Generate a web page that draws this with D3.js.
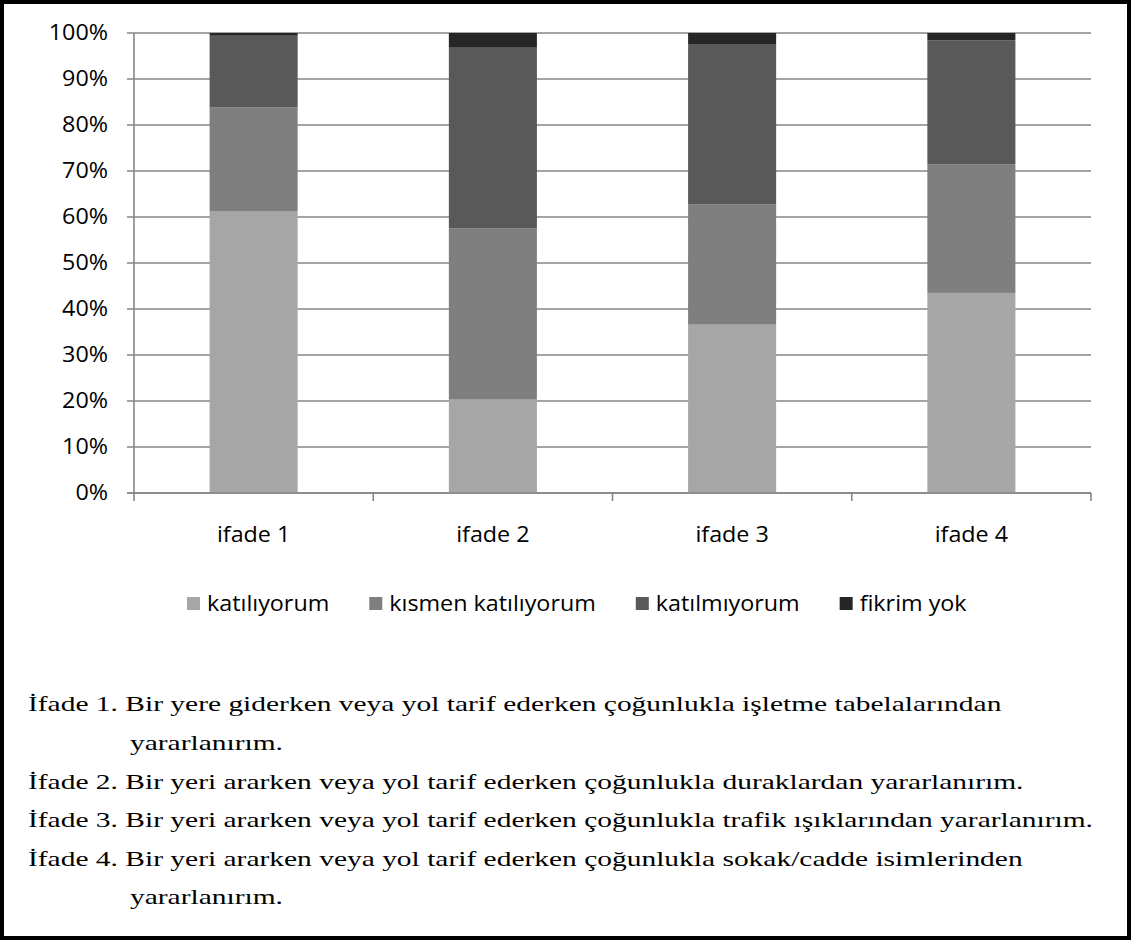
<!DOCTYPE html>
<html><head><meta charset="utf-8">
<script src="https://cdn.jsdelivr.net/npm/d3@7"></script>
<style>html,body{margin:0;padding:0;background:#fff;}svg{display:block;}</style>
</head><body>
<svg id="chart" width="1131" height="942"></svg>
<script>
const categories = ["ifade 1", "ifade 2", "ifade 3", "ifade 4"];
const seriesNames = ["katılıyorum", "kısmen katılıyorum", "katılmıyorum", "fikrim yok"];
const katiliyorum = [61.3, 20.3, 36.6, 43.5];
const kismenKatiliyorum = [22.5, 37.2, 26.2, 27.9];
const katilmiyorum = [15.6, 39.3, 34.8, 27.0];
const fikrimYok = [0.6, 3.2, 2.4, 1.6];
const colors = ["#a6a6a6", "#7f7f7f", "#595959", "#262626"];
const yTicks = [0, 0.1, 0.2, 0.3, 0.4, 0.5, 0.6, 0.7, 0.8, 0.9, 1.0];
const notes = [
  {text: "İfade 1. Bir yere giderken veya yol tarif ederken çoğunlukla işletme tabelalarından", indent: false},
  {text: "yararlanırım.", indent: true},
  {text: "İfade 2. Bir yeri ararken veya yol tarif ederken çoğunlukla duraklardan yararlanırım.", indent: false},
  {text: "İfade 3. Bir yeri ararken veya yol tarif ederken çoğunlukla trafik ışıklarından yararlanırım.", indent: false},
  {text: "İfade 4. Bir yeri ararken veya yol tarif ederken çoğunlukla sokak/cadde isimlerinden", indent: false},
  {text: "yararlanırım.", indent: true}
];

(function () {
const seriesArrays = [katiliyorum, kismenKatiliyorum, katilmiyorum, fikrimYok];
const table = categories.map((c, i) => {
  const row = {cat: c};
  seriesNames.forEach((s, j) => row[s] = seriesArrays[j][i]);
  return row;
});

const svg = d3.select("#chart");
const chartFont = "'Open Sans', sans-serif";
const noteFont = "'Liberation Serif', 'Times New Roman', serif";
const chartStretch = 1.11;   // reference text is horizontally wider than Open Sans
function stretch(sel, k) {
  sel.each(function () {
    const w = this.getComputedTextLength();
    d3.select(this).attr("textLength", w * k).attr("lengthAdjust", "spacingAndGlyphs");
  });
}

const pL = 134, pR = 1091, pT = 33, pB = 493;
const x = d3.scaleBand().domain(categories).range([pL, pR]).paddingInner(0.632).paddingOuter(0.316);
const y = d3.scaleLinear().domain([0, 1]).range([pB, pT]);

const stacked = d3.stack().keys(seriesNames).offset(d3.stackOffsetExpand)(table);

// gridlines
svg.append("g").selectAll("line").data(yTicks).join("line")
  .attr("x1", pL - 7).attr("x2", pR)
  .attr("y1", d => y(d)).attr("y2", d => y(d))
  .attr("stroke", "#868686").attr("stroke-width", 1.6);

// y labels
svg.append("g").selectAll("text").data(yTicks).join("text")
  .attr("x", pL - 26).attr("y", d => y(d)).attr("dy", "0.35em")
  .attr("text-anchor", "end")
  .attr("font-family", chartFont).attr("font-size", 21).attr("fill", "#000")
  .text(d => d3.format(".0%")(d))
  .call(stretch, chartStretch);

// bars
svg.append("g").selectAll("g").data(stacked).join("g")
  .attr("fill", (d, i) => colors[i])
  .selectAll("rect").data(d => d).join("rect")
  .attr("x", d => x(d.data.cat)).attr("width", x.bandwidth())
  .attr("y", d => y(d[1])).attr("height", d => y(d[0]) - y(d[1]));

// axes lines
svg.append("line").attr("x1", pL).attr("x2", pL).attr("y1", pT).attr("y2", pB + 1)
  .attr("stroke", "#868686").attr("stroke-width", 1.6);
svg.append("line").attr("x1", pL - 7).attr("x2", pR).attr("y1", pB).attr("y2", pB)
  .attr("stroke", "#868686").attr("stroke-width", 1.6);
const bounds = categories.map(c => x(c) - x.step() * x.paddingInner() / 2).concat([pR]);
svg.append("g").selectAll("line").data(bounds).join("line")
  .attr("x1", d => d).attr("x2", d => d).attr("y1", pB).attr("y2", pB + 8)
  .attr("stroke", "#868686").attr("stroke-width", 1.6);

// x labels
svg.append("g").selectAll("text").data(categories).join("text")
  .attr("x", d => x(d) + x.bandwidth() / 2).attr("y", 535).attr("dy", "0.35em")
  .attr("text-anchor", "middle")
  .attr("font-family", chartFont).attr("font-size", 21).attr("fill", "#000")
  .text(d => d)
  .call(stretch, chartStretch);

// legend
let lx = 187;
const legY = 604;
seriesNames.forEach((s, i) => {
  svg.append("rect").attr("x", lx).attr("y", legY - 7).attr("width", 13).attr("height", 13).attr("fill", colors[i]);
  const t = svg.append("text").attr("x", lx + 20).attr("y", legY).attr("dy", "0.35em")
    .attr("font-family", chartFont).attr("font-size", 21).attr("fill", "#000").text(s);
  const w = t.node().getComputedTextLength() * chartStretch;
  t.attr("textLength", w).attr("lengthAdjust", "spacingAndGlyphs");
  lx += 20 + w + 40;
});

// notes
const noteX = 28, indentX = 130;
const noteY = [703, 742, 781, 819, 858, 896];
const noteSel = svg.append("g").selectAll("text").data(notes).join("text")
  .attr("x", d => d.indent ? indentX : noteX)
  .attr("y", (d, i) => noteY[i]).attr("dy", "0.35em")
  .attr("font-family", noteFont).attr("font-size", 22).attr("fill", "#000")
  .text(d => d.text);
// one horizontal stretch for all lines, so that the longest line (İfade 3) ends near the right frame
const w3 = noteSel.nodes()[3].getComputedTextLength();
const noteStretch = (1093 - noteX) / w3;
noteSel.call(stretch, noteStretch);

// frame
svg.append("rect").attr("x", 2).attr("y", 2).attr("width", 1127).attr("height", 936)
  .attr("fill", "none").attr("stroke", "#000").attr("stroke-width", 4);
})();
</script>
</body></html>
